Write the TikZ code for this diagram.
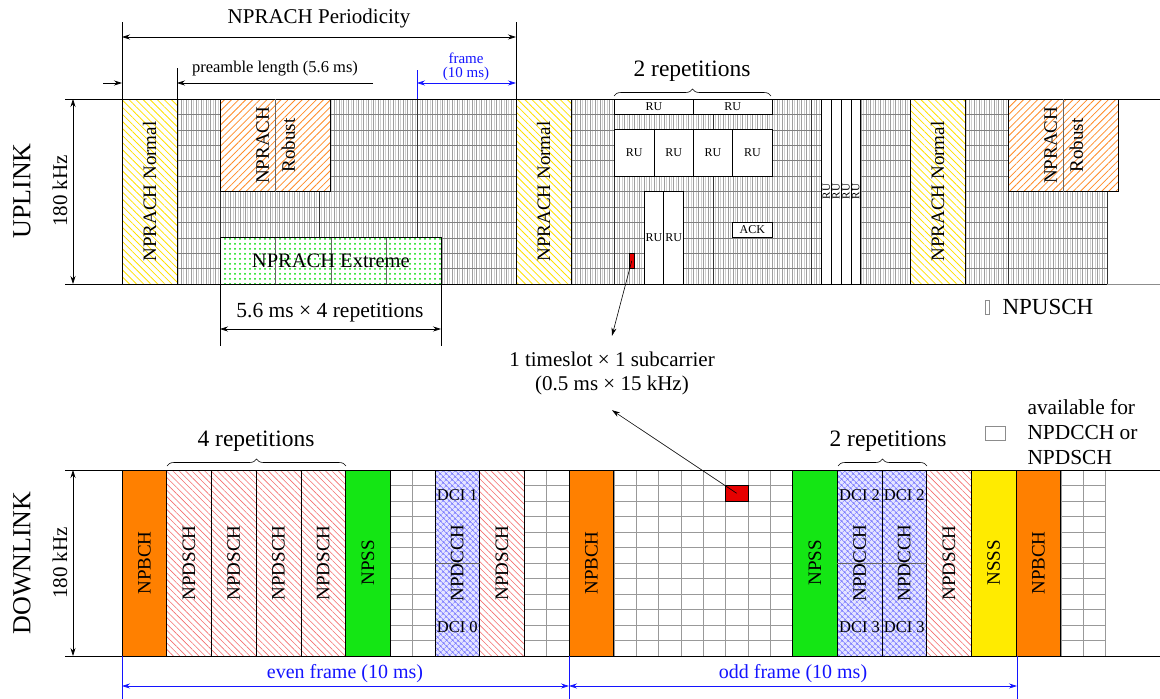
\documentclass[tikz,border=0pt]{standalone}
\usepackage{fontspec}
\setmainfont{Liberation Serif}
\usetikzlibrary{arrows.meta,patterns,patterns.meta,decorations.pathreplacing}
\definecolor{npbch}{RGB}{255,128,0}
\definecolor{npss}{RGB}{20,230,20}
\definecolor{nsss}{RGB}{255,235,0}
\definecolor{hatchyellow}{RGB}{255,225,0}
\definecolor{hatchorange}{RGB}{255,140,40}
\definecolor{dschred}{RGB}{245,110,110}
\definecolor{dotgreen}{RGB}{0,225,0}
\definecolor{cellred}{RGB}{230,0,0}
\definecolor{fblue}{RGB}{20,20,255}
\tikzset{
  ulgrid/.style={draw=black!38, line width=0.35pt},
  ulgridb/.style={draw=black!18, line width=0.3pt},
  ulrow/.style={draw=black!50, line width=0.4pt},
  dlgrid/.style={draw=black!40, line width=0.4pt},
  frameline/.style={draw=black!80, line width=0.6pt},
  normalbox/.style={draw=black, line width=0.7pt, preaction={fill=white},
    pattern={Lines[angle=-45,distance=5pt,line width=0.8pt]}, pattern color=hatchyellow},
  robustbox/.style={draw=black, line width=0.7pt, preaction={fill=white},
    pattern={Lines[angle=45,distance=5pt,line width=0.8pt]}, pattern color=hatchorange},
  extremebox/.style={draw=black, line width=0.7pt, preaction={fill=white},
    pattern={Dots[distance=5pt,radius=1pt]}, pattern color=dotgreen},
  rubox/.style={draw=black, line width=0.7pt, fill=white},
  bchbox/.style={draw=black, line width=0.6pt, fill=npbch},
  pssbox/.style={draw=black, line width=0.6pt, fill=npss},
  sssbox/.style={draw=black, line width=0.6pt, fill=nsss},
  dschbox/.style={draw=black, line width=0.6pt, preaction={fill=white},
    pattern={Lines[angle=-45,distance=4.5pt,line width=0.6pt]}, pattern color=dschred},
  dcchbox/.style={draw=black, line width=0.6pt, preaction={fill=white!90!blue},
    pattern={Hatch[angle=45,distance=4pt,line width=0.5pt]}, pattern color=blue!55},
  vlbl/.style={rotate=90, font=\fontsize{19}{22}\selectfont, inner sep=0pt},
  smalltxt/.style={font=\fontsize{16.5}{13}\selectfont},
  tinytxt/.style={font=\fontsize{12}{13}\selectfont, inner sep=0pt},
  dcitxt/.style={font=\fontsize{16.5}{17}\selectfont, inner sep=0pt},
  maintxt/.style={font=\fontsize{21}{24}\selectfont},
  reptxt/.style={font=\fontsize{23.5}{26}\selectfont},
  bigtxt/.style={font=\fontsize{26}{30}\selectfont, rotate=90},
  redcell/.style={draw=black, line width=0.4pt, fill=cellred, inner sep=0pt},
  legbox/.style={draw=black!45, line width=0.8pt, inner sep=0pt},
  dimarrow/.style={<->, line width=0.6pt},
  brc/.style={decorate, decoration={brace, amplitude=7pt}, line width=0.6pt}
}
\def\ua{122}\def\ums{9.85}\def\ut{99}\def\ub{284}\def\urh{15.4167}
\def\da{122}\def\dsf{44.7}\def\dt{470}\def\db{656}\def\drh{15.5}
\newcommand\ulrect[5]{\draw[#1] ({\ua+\ums*(#2)},{\ut+\urh*(#4)}) rectangle ({\ua+\ums*(#3)},{\ut+\urh*(#5)});}
\newcommand\dlrect[2]{\draw[#1] ({\da+\dsf*(#2)},\dt) rectangle ({\da+\dsf*(#2+1)},\db);}
\begin{document}
\begin{tikzpicture}[x=1pt,y=-1pt,>={Stealth[length=8pt,width=5pt]}]
\useasboundingbox (0,0) rectangle (1160,699);
% ---------------- UPLINK grid
\foreach \k in {0,...,199} \draw[ulgridb] ({\ua+\ums*(\k*0.5+0.25)},\ut) -- ++(0,185);
\foreach \k in {0,...,200} \draw[ulgrid] ({\ua+\ums*\k*0.5},\ut) -- ++(0,185);
\foreach \j in {1,...,11} \draw[ulrow] (\ua,{\ut+\urh*\j}) -- ({\ua+\ums*100},{\ut+\urh*\j});
\foreach \t in {0,10,...,100} \draw[frameline] ({\ua+\ums*\t},\ut) -- ++(0,185);
\draw[line width=0.6pt] (65,\ut) -- (1160,\ut);
\draw[line width=0.6pt] (65,\ub) -- (1107,\ub);
\draw[line width=0.8pt, black!45] (1107,\ub) -- (1160,\ub);
% NPRACH normal
\foreach \t/\nm in {0/na,40/nb,80/nc}{
  \ulrect{normalbox}{\t}{\t+5.6}{0}{12}
  \node[vlbl] (\nm) at ({\ua+\ums*(\t+2.8)},{\ut+6*\urh}) {NPRACH Normal};
}
% NPRACH robust
\foreach \t/\nm in {10/ra,90/rb}{
  \ulrect{robustbox}{\t}{\t+11.2}{0}{6}
  \draw[black!60, line width=0.5pt] ({\ua+\ums*(\t+5.6)},\ut) -- ++(0,{6*\urh});
  \node[vlbl, align=center, font=\fontsize{19}{26}\selectfont] (\nm) at ({\ua+\ums*(\t+5.6)},{\ut+3*\urh}) {NPRACH\\Robust};
}
% NPRACH extreme
\ulrect{extremebox}{10}{32.4}{9}{12}
\foreach \t in {15.6,21.2,26.8} \draw[black!60, line width=0.5pt] ({\ua+\ums*\t},{\ut+9*\urh}) -- ({\ua+\ums*\t},\ub);
\node[font=\fontsize{20.5}{22}\selectfont] (ext) at ({\ua+\ums*21.2},{\ut+10.5*\urh}) {NPRACH Extreme};
% RUs
\ulrect{rubox}{50}{58}{0}{1}
\ulrect{rubox}{58}{66}{0}{1}
\node[tinytxt] (ru1) at ({\ua+\ums*54},{\ut+0.5*\urh}) {RU};
\node[tinytxt] (ru2) at ({\ua+\ums*62},{\ut+0.5*\urh}) {RU};
\foreach \t/\nm in {50/rc1,54/rc2,58/rc3,62/rc4}{
  \ulrect{rubox}{\t}{\t+4}{2}{5}
  \node[tinytxt] (\nm) at ({\ua+\ums*(\t+2)},{\ut+3.5*\urh}) {RU};
}
\foreach \t/\nm in {53/rd1,55/rd2}{
  \ulrect{rubox}{\t}{\t+2}{6}{12}
  \node[tinytxt] (\nm) at ({\ua+\ums*(\t+1)},{\ut+9*\urh}) {RU};
}
\ulrect{rubox}{62}{66}{8}{9}
\node[tinytxt] (ack) at ({\ua+\ums*64},{\ut+8.5*\urh}) {ACK};
\foreach \t/\nm in {71/re1,72/re2,73/re3,74/re4}{
  \ulrect{rubox}{\t}{\t+1}{0}{12}
  \node[tinytxt, rotate=90, font=\fontsize{11}{12}\selectfont] (\nm) at ({\ua+\ums*(\t+0.5)},{\ut+6*\urh}) {RU};
}
\node[redcell, minimum width=4.9pt, minimum height=15.4pt] (ulred) at ({\ua+\ums*51.75},{\ut+10.5*\urh}) {};
% UL annotations
\node[bigtxt] (upl) at (22,191) {UPLINK};
\node[rotate=90, font=\fontsize{21}{24}\selectfont] (ukhz) at (60,191) {180 kHz};
\draw[dimarrow] (73,\ut) -- (73,\ub);
\draw[line width=0.6pt] (122,22) -- (122,99);
\draw[line width=0.6pt] (516,22) -- (516,99);
\draw[dimarrow] (122,37) -- (516,37);
\node[maintxt] (per) at (319,18) {NPRACH Periodicity};
\draw[line width=0.6pt] (177,68) -- (177,99);
\draw[->, line width=0.6pt] (103,83) -- (122,83);
\draw[->, line width=0.6pt] (373,83) -- (177,83);
\node[smalltxt] (pre) at (275,69) {preamble length (5.6 ms)};
\draw[fblue, line width=0.6pt] (417,70) -- (417,99);
\draw[dimarrow, fblue] (417,83) -- (516,83);
\node[fblue, inner sep=0pt, font=\fontsize{15}{12.5}\selectfont] (frm1) at (466,58) {frame};
\node[fblue, inner sep=0pt, font=\fontsize{15}{12.5}\selectfont] (frm2) at (466,73.5) {(10 ms)};
\draw[brc] (614,96) -- (771,96);
\node[reptxt] (rep2u) at (692,71) {2 repetitions};
\draw[line width=0.6pt] (220,284) -- (220,346);
\draw[line width=0.6pt] (441,284) -- (441,346);
\draw[dimarrow] (220,329) -- (441,329);
\node[font=\fontsize{21.5}{24}\selectfont] (ext4) at (330,313) {5.6 ms × 4 repetitions};
\node[legbox, minimum width=4pt, minimum height=14pt] (tofu) at (987,307) {};
\node[anchor=west, font=\fontsize{23}{26}\selectfont] (npusch) at (999,307) {NPUSCH};
% ---------------- DOWNLINK grid
\foreach \k in {0,...,44} \draw[dlgrid] ({\da+\dsf*\k/2},\dt) -- ++(0,186);
\foreach \j in {1,...,11} \draw[dlgrid] (\da,{\dt+\drh*\j}) -- ({\da+\dsf*22},{\dt+\drh*\j});
\draw[line width=0.6pt] (65,\dt) -- (1160,\dt);
\draw[line width=0.6pt] (65,\db) -- (1160,\db);
\foreach \s/\nm in {0/b1,10/b2,20/b3}{
  \dlrect{bchbox}{\s}
  \node[vlbl] (\nm) at ({\da+\dsf*(\s+0.5)},563) {NPBCH};
}
\foreach \s/\nm in {1/d1,2/d2,3/d3,4/d4,8/d5,18/d6}{
  \dlrect{dschbox}{\s}
  \node[vlbl] (\nm) at ({\da+\dsf*(\s+0.5)},563) {NPDSCH};
}
\foreach \s/\nm in {5/p1,15/p2}{
  \dlrect{pssbox}{\s}
  \node[vlbl] (\nm) at ({\da+\dsf*(\s+0.5)},563) {NPSS};
}
\dlrect{sssbox}{19}
\node[vlbl] (sss) at ({\da+\dsf*19.5},563) {NSSS};
\foreach \s/\nm/\ta/\tb in {7/c1/1/0,16/c2/2/3,17/c3/2/3}{
  \dlrect{dcchbox}{\s}
  \draw[black!60, line width=0.5pt] ({\da+\dsf*\s},563) -- ({\da+\dsf*(\s+1)},563);
  \node[vlbl] (\nm) at ({\da+\dsf*(\s+0.5)},563) {NPDCCH};
  \node[dcitxt] (\nm t) at ({\da+\dsf*(\s+0.5)},495) {DCI \ta};
  \node[dcitxt] (\nm b) at ({\da+\dsf*(\s+0.5)},627) {DCI \tb};
}
\node[redcell, minimum width=22.35pt, minimum height=15.5pt] (dlred) at ({\da+\dsf*13.75},{\dt+1.5*\drh}) {};
% DL annotations
\node[bigtxt] (dnl) at (22,563) {DOWNLINK};
\node[rotate=90, font=\fontsize{21}{24}\selectfont] (dkhz) at (60,563) {180 kHz};
\draw[dimarrow] (73,\dt) -- (73,\db);
\draw[brc] (167,466) -- (346,466);
\node[reptxt] (rep4) at (256,441) {4 repetitions};
\draw[brc] (838,466) -- (927,466);
\node[reptxt] (rep2d) at (888,441) {2 repetitions};
\draw[fblue, line width=0.6pt] (122,656) -- (122,699);
\draw[fblue, line width=0.6pt] (569,656) -- (569,699);
\draw[fblue, line width=0.6pt] (1017,656) -- (1017,699);
\draw[dimarrow, fblue] (122,686) -- (569,686);
\draw[dimarrow, fblue] (569,686) -- (1017,686);
\node[fblue, font=\fontsize{20}{24}\selectfont] (even) at (345,674) {even frame (10 ms)};
\node[fblue, font=\fontsize{20}{24}\selectfont] (odd) at (793,674) {odd frame (10 ms)};
\node[legbox, minimum width=20pt, minimum height=14pt] (avbox) at (995,433) {};
\node[font=\fontsize{21.4}{25}\selectfont, anchor=west, align=left] (avtxt) at (1024,432) {available for\\NPDCCH or\\NPDSCH};
% note
\node[maintxt, align=center, minimum height=74pt] (note) at (612,373) {1 timeslot × 1 subcarrier\\(0.5 ms × 15 kHz)};
\draw[->, line width=0.6pt] (ulred.center) -- (note.north);
\draw[->, line width=0.6pt] (dlred.center) -- (note.south);
\end{tikzpicture}
\end{document}
